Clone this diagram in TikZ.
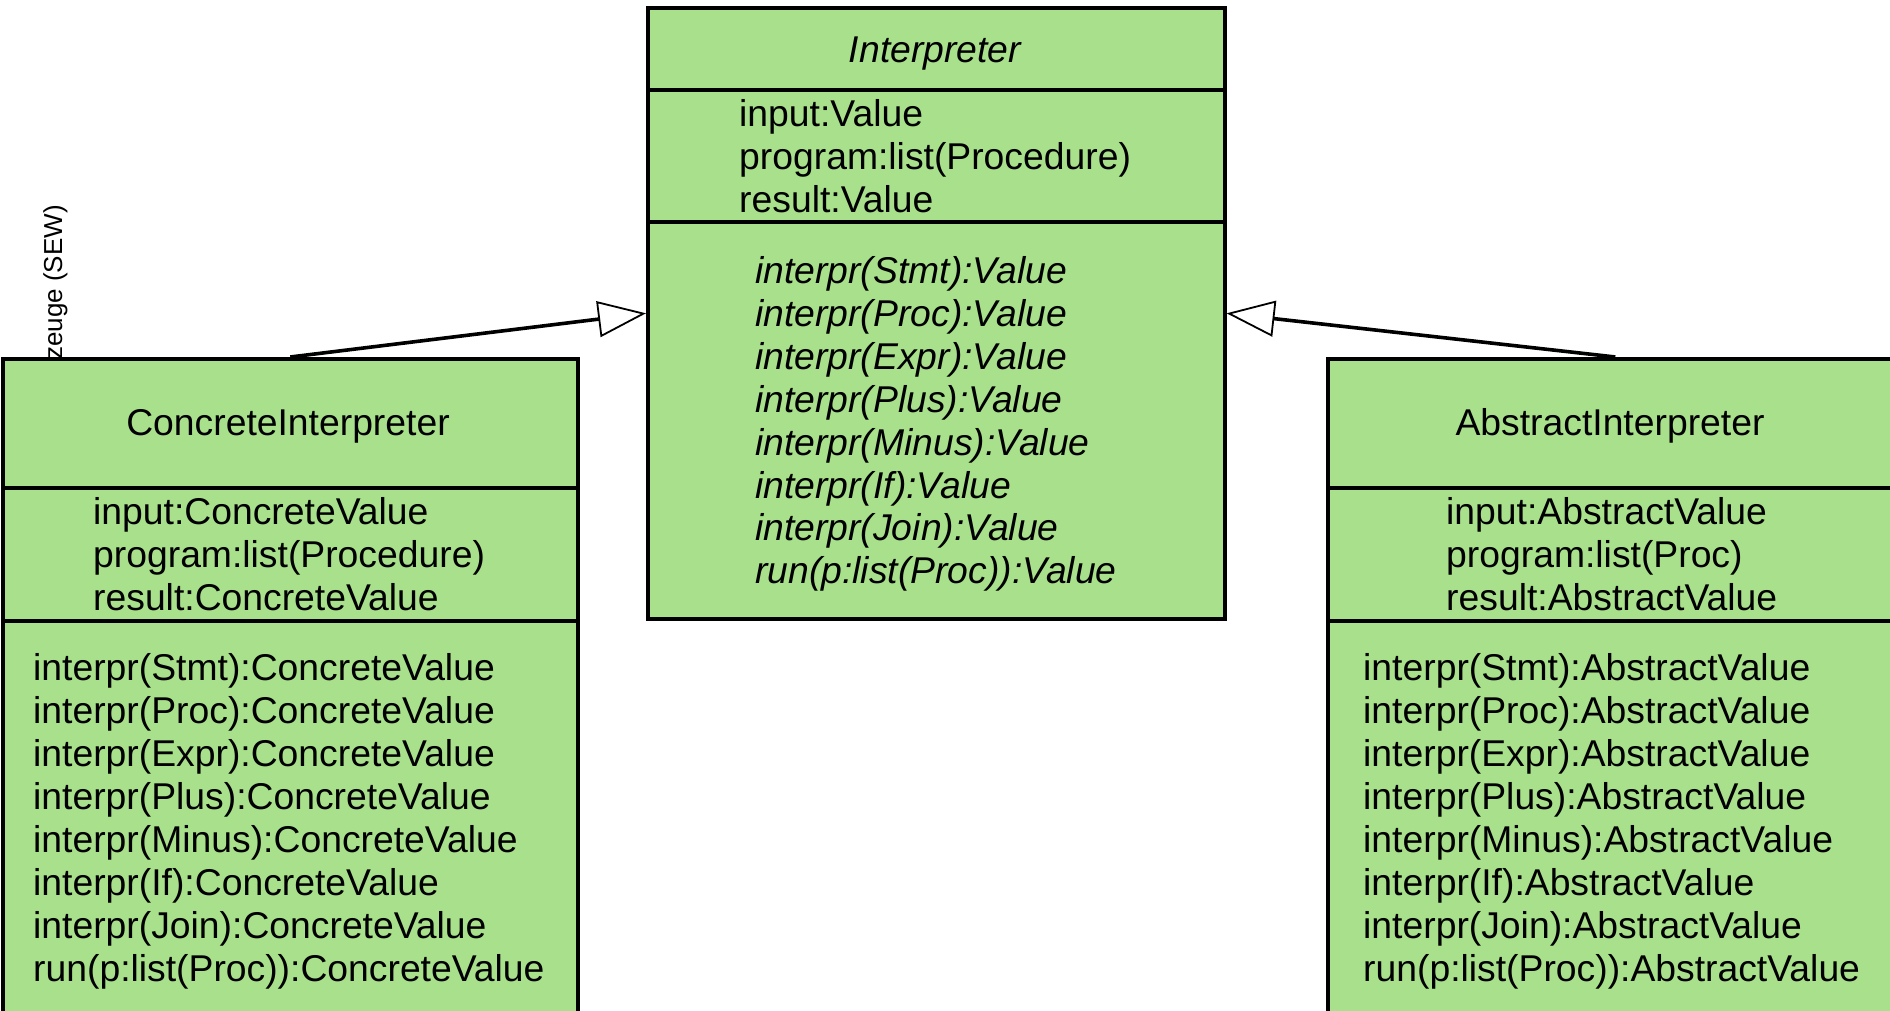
\documentclass[tikz,border=0pt]{standalone}
\usepackage{fontspec}
\setmainfont{Liberation Sans}
\usetikzlibrary{arrows.meta}
\definecolor{umlgreen}{RGB}{169,224,139}

\tikzset{
  classbox/.style={draw, fill=umlgreen, line width=3.6pt, rectangle, inner sep=0pt, anchor=north west},
  divider/.style={line width=3.6pt},
  txt/.style={font=\fontsize{37.3}{43}\selectfont, inner sep=0pt},
  title/.style={txt, anchor=base},
  member/.style={txt, anchor=base west},
  gen/.style={line width=3.6pt, -{Triangle[length=48pt, width=36pt, fill=white, line width=1.8pt]}}
}

\begin{document}
\begin{tikzpicture}[x=1pt, y=-1pt]
\useasboundingbox (0,0) rectangle (1890,1011);
\clip (0,0) rectangle (1890,1011);

% vertical caption partly hidden behind the left class
\node[font=\fontsize{26}{30}\selectfont, inner sep=0pt, rotate=90, anchor=base east] (cap) at (62,205) {zeuge (SEW)};

% abstract base class
\node[classbox, minimum width=577pt, minimum height=611pt] (interp) at (646,6) {};
\draw[divider] (interp.west |- 0,90) -- (interp.east |- 0,90);
\draw[divider] (interp.west |- 0,222) -- (interp.east |- 0,222);
\node[title, font=\fontsize{37.3}{43}\selectfont\itshape] (interpT) at (935,62.5) {Interpreter};
\foreach \t [count=\i from 0] in {input:Value, program:list(Procedure), result:Value}
  \node[member] (interpA\i) at (739,126.5+43*\i) {\t};
\foreach \t [count=\i from 0] in {interpr(Stmt):Value, interpr(Proc):Value, interpr(Expr):Value, interpr(Plus):Value, interpr(Minus):Value, interpr(If):Value, interpr(Join):Value, run(p:list(Proc)):Value}
  \node[member, font=\fontsize{37.3}{43}\selectfont\itshape] (interpM\i) at (755,283.5+42.9*\i) {\t};

% concrete subclass
\node[classbox, minimum width=575pt, minimum height=700pt] (conc) at (1,357) {};
\draw[divider] (conc.west |- 0,488) -- (conc.east |- 0,488);
\draw[divider] (conc.west |- 0,621) -- (conc.east |- 0,621);
\node[title] (concT) at (288,435) {ConcreteInterpreter};
\foreach \t [count=\i from 0] in {input:ConcreteValue, program:list(Procedure), result:ConcreteValue}
  \node[member] (concA\i) at (93,524+43*\i) {\t};
\foreach \t [count=\i from 0] in {interpr(Stmt):ConcreteValue, interpr(Proc):ConcreteValue, interpr(Expr):ConcreteValue, interpr(Plus):ConcreteValue, interpr(Minus):ConcreteValue, interpr(If):ConcreteValue, interpr(Join):ConcreteValue, run(p:list(Proc)):ConcreteValue}
  \node[member] (concM\i) at (33,680+43*\i) {\t};

% abstract-domain subclass
\node[classbox, minimum width=575pt, minimum height=700pt] (abst) at (1326,357) {};
\draw[divider] (abst.west |- 0,488) -- (abst.east |- 0,488);
\draw[divider] (abst.west |- 0,621) -- (abst.east |- 0,621);
\node[title] (abstT) at (1610,435) {AbstractInterpreter};
\foreach \t [count=\i from 0] in {input:AbstractValue, program:list(Proc), result:AbstractValue}
  \node[member] (abstA\i) at (1446,524+43*\i) {\t};
\foreach \t [count=\i from 0] in {interpr(Stmt):AbstractValue, interpr(Proc):AbstractValue, interpr(Expr):AbstractValue, interpr(Plus):AbstractValue, interpr(Minus):AbstractValue, interpr(If):AbstractValue, interpr(Join):AbstractValue, run(p:list(Proc)):AbstractValue}
  \node[member] (abstM\i) at (1363,680+43*\i) {\t};

% generalisation arrows
\draw[gen] (conc.north) -- (interp.west);
\draw[gen] (abst.north) -- (interp.east);
\end{tikzpicture}
\end{document}
